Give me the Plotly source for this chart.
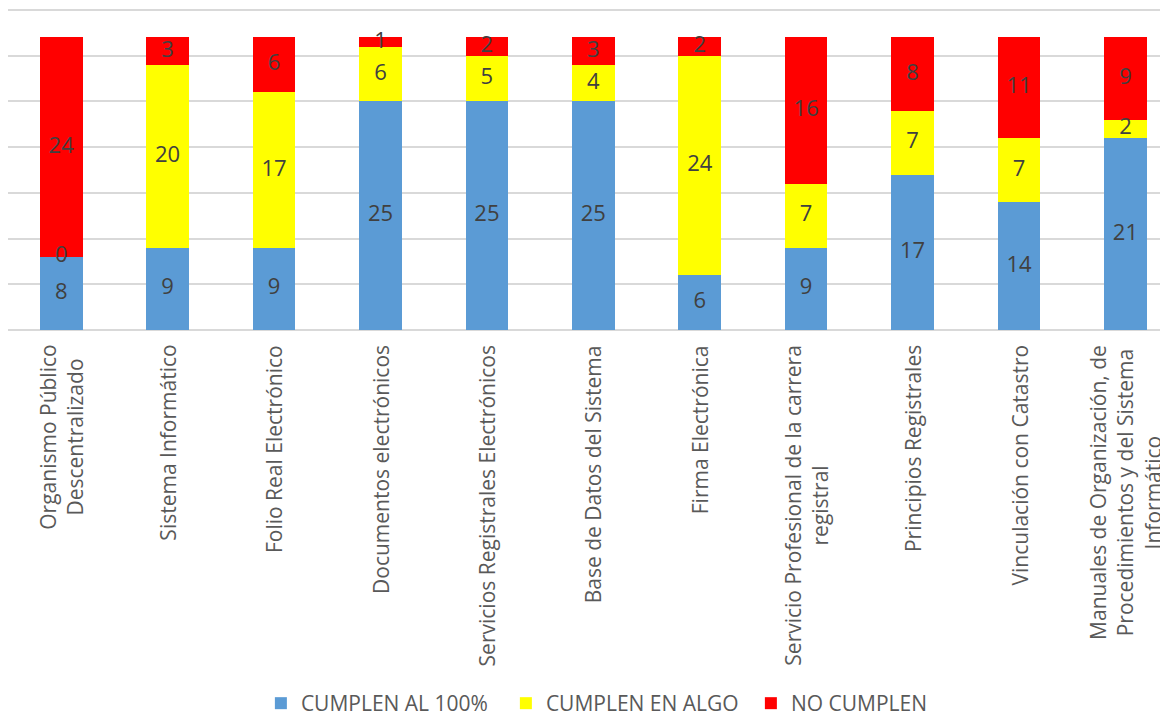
import plotly.graph_objects as go

categories = [
    "Organismo Público<br>Descentralizado",
    "Sistema Informático",
    "Folio Real Electrónico",
    "Documentos electrónicos",
    "Servicios Registrales Electrónicos",
    "Base de Datos del Sistema",
    "Firma Electrónica",
    "Servicio Profesional de la carrera<br>registral",
    "Principios Registrales",
    "Vinculación con Catastro",
    "Manuales de Organización, de<br>Procedimientos y del Sistema<br>Informático",
]
cumplen_100 = [8, 9, 9, 25, 25, 25, 6, 9, 17, 14, 21]
cumplen_algo = [0, 20, 17, 6, 5, 4, 24, 7, 7, 7, 2]
no_cumplen = [24, 3, 6, 1, 2, 3, 2, 16, 8, 11, 9]
grid_values = [0, 5, 10, 15, 20, 25, 30, 35]

series = [
    ("CUMPLEN AL 100%", cumplen_100, "#5B9BD5"),
    ("CUMPLEN EN ALGO", cumplen_algo, "#FFFF00"),
    ("NO CUMPLEN", no_cumplen, "#FF0000"),
]

FONT = "Open Sans"
Y_MAX = 35.22
fig = go.Figure()
x_idx = list(range(len(categories)))
base = [0] * len(categories)
label_traces = []
for name, vals, color in series:
    fig.add_trace(go.Bar(
        x=x_idx, y=vals, name=name, width=0.4,
        marker=dict(color=color, line=dict(width=0)),
        hoverinfo="skip",
    ))
    centers = [b + v / 2 for b, v in zip(base, vals)]
    label_traces.append(go.Scatter(
        x=x_idx, y=centers, mode="text", text=[str(v) for v in vals],
        textfont=dict(family=FONT, size=22, color="#404040"),
        showlegend=False, hoverinfo="skip",
    ))
    base = [b + v for b, v in zip(base, vals)]
for t in label_traces:
    fig.add_trace(t)

# category labels, rotated, lines centred like the original
for i, cat in enumerate(categories):
    fig.add_annotation(
        x=i, xref="x", y=0, yref="y", yshift=-13,
        text=cat, showarrow=False, textangle=-90,
        xanchor="center", yanchor="top", align="center",
        font=dict(family=FONT, size=21, color="#595959"),
    )

# top gridline (plotly drops gridlines at the very edge of the plot area)
top_frac = grid_values[-1] / Y_MAX
fig.add_shape(
    type="line", xref="paper", x0=0, x1=1, yref="paper", y0=top_frac, y1=top_frac,
    line=dict(color="#D9D9D9", width=1.5), layer="below",
)

fig.update_layout(
    barmode="stack",
    width=1160, height=709,
    margin=dict(l=0, r=0, t=0, b=387, autoexpand=False),
    paper_bgcolor="white", plot_bgcolor="white",
    font=dict(family=FONT, color="#595959"),
    legend=dict(
        orientation="h", x=0.218, xanchor="left", y=-1.16, yanchor="middle",
        font=dict(family=FONT, size=21, color="#595959"),
        traceorder="normal", entrywidth=200, entrywidthmode="pixels",
    ),
    xaxis=dict(
        range=[-0.5, 10.4], tickmode="array", tickvals=x_idx,
        showticklabels=False, automargin=False,
        showgrid=False, zeroline=False, showline=False,
        fixedrange=True,
    ),
    yaxis=dict(
        range=[0, Y_MAX], tickvals=grid_values, showticklabels=False,
        automargin=False,
        showgrid=True, gridcolor="#D9D9D9", gridwidth=1.5,
        zeroline=True, zerolinecolor="#D9D9D9", zerolinewidth=1.5,
        fixedrange=True,
    ),
)

fig.write_html("out.html")
